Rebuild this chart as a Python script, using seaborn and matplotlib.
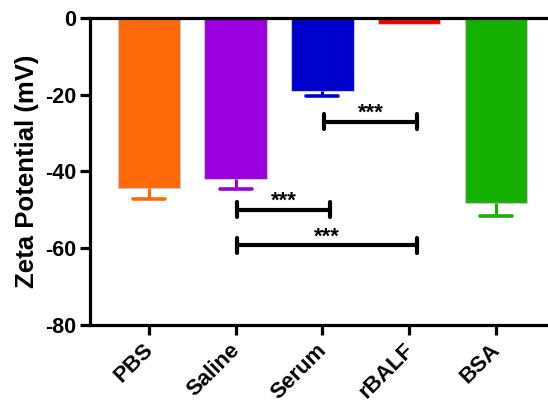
import matplotlib
matplotlib.use("Agg")
import matplotlib.pyplot as plt
import matplotlib.transforms as mtransforms
import seaborn as sns
import pandas as pd
import numpy as np

groups = ["PBS", "Saline", "Serum", "rBALF", "BSA"]
zeta_mean = [-44.3, -42.0, -19.0, -1.4, -48.1]
zeta_sem = [2.8, 2.6, 1.3, 0.0, 3.4]
bar_colors = ["#FF6A0A", "#9900DD", "#0000CC", "#EE0000", "#15B000"]
y_ticks = [0, -20, -40, -60, -80]

# significance brackets: (left group, right group, height)
brackets = [("Serum", "rBALF", -27.0), ("Saline", "Serum", -50.0), ("Saline", "rBALF", -59.3)]
bracket_label = "***"

sns.set_theme(style="white")
plt.rcParams["font.family"] = ["Liberation Sans", "DejaVu Sans"]
plt.rcParams["font.weight"] = "bold"
plt.rcParams["text.color"] = "black"
plt.rcParams["axes.labelcolor"] = "black"
plt.rcParams["xtick.color"] = "black"
plt.rcParams["ytick.color"] = "black"

fig = plt.figure(figsize=(5.48, 4.04), dpi=100)
ax = fig.add_axes([0.164, 0.196, 0.836, 0.759])

df = pd.DataFrame({"group": groups, "zeta": zeta_mean})
sns.barplot(data=df, x="group", y="zeta", hue="group", palette=bar_colors,
            order=groups, hue_order=groups, legend=False, errorbar=None,
            saturation=1, width=0.72, edgecolor="#c8c8c8", linewidth=0.8, ax=ax)

# one-sided (downward) error bars with a cap at the lower end only
xs = np.arange(len(groups))
cap_half = 0.185
for x, m, e, c in zip(xs, zeta_mean, zeta_sem, bar_colors):
    if e <= 0:
        continue
    ax.plot([x, x], [m, m - e], color=c, lw=2.2, zorder=3, solid_capstyle="butt")
    ax.plot([x - cap_half, x + cap_half], [m - e, m - e], color=c, lw=2.6,
            zorder=3, solid_capstyle="round")

pos = {g: i for i, g in enumerate(groups)}
for g1, g2, h in brackets:
    x1 = pos[g1] + 0.02
    x2 = pos[g2] + 0.09
    ax.plot([x1, x2], [h, h], color="black", lw=3.0, solid_capstyle="round", zorder=4)
    for xe in (x1, x2):
        ax.plot([xe, xe], [h - 2.0, h + 2.0], color="black", lw=3.0,
                solid_capstyle="round", zorder=4)
    ax.text((x1 + x2) / 2, h + 0.8, bracket_label, ha="center", va="baseline",
            fontsize=16, fontweight="bold", color="black")

ax.set_xlim(-0.68, 4.6)
ax.set_ylim(-80, 0)
ax.set_yticks(y_ticks)
ax.set_yticklabels([str(t) for t in y_ticks], fontsize=15.5, fontweight="bold")
ax.set_xticks(xs)
ax.set_xticklabels(groups, rotation=45, ha="right", rotation_mode="anchor",
                   fontsize=16, fontweight="bold")
ax.set_xlabel("")
ax.set_ylabel("Zeta Potential (mV)", fontsize=18.5, fontweight="bold", labelpad=4)

for side in ("left", "bottom", "top"):
    ax.spines[side].set_visible(True)
    ax.spines[side].set_linewidth(2.3)
    ax.spines[side].set_color("black")
ax.spines["right"].set_visible(False)
ax.tick_params(axis="both", which="both", direction="out", length=7.5, width=2.3,
               color="black", labelcolor="black", pad=2.5)
ax.tick_params(axis="x", bottom=True, top=False)
ax.tick_params(axis="y", left=True)

# nudge the rotated category labels slightly to the left
shift = mtransforms.ScaledTranslation(-6 / 100, -1 / 100, fig.dpi_scale_trans)
for tick in ax.xaxis.get_major_ticks():
    tick.label1.set_transform(tick.label1.get_transform() + shift)

fig.savefig("out.png", dpi=100)
